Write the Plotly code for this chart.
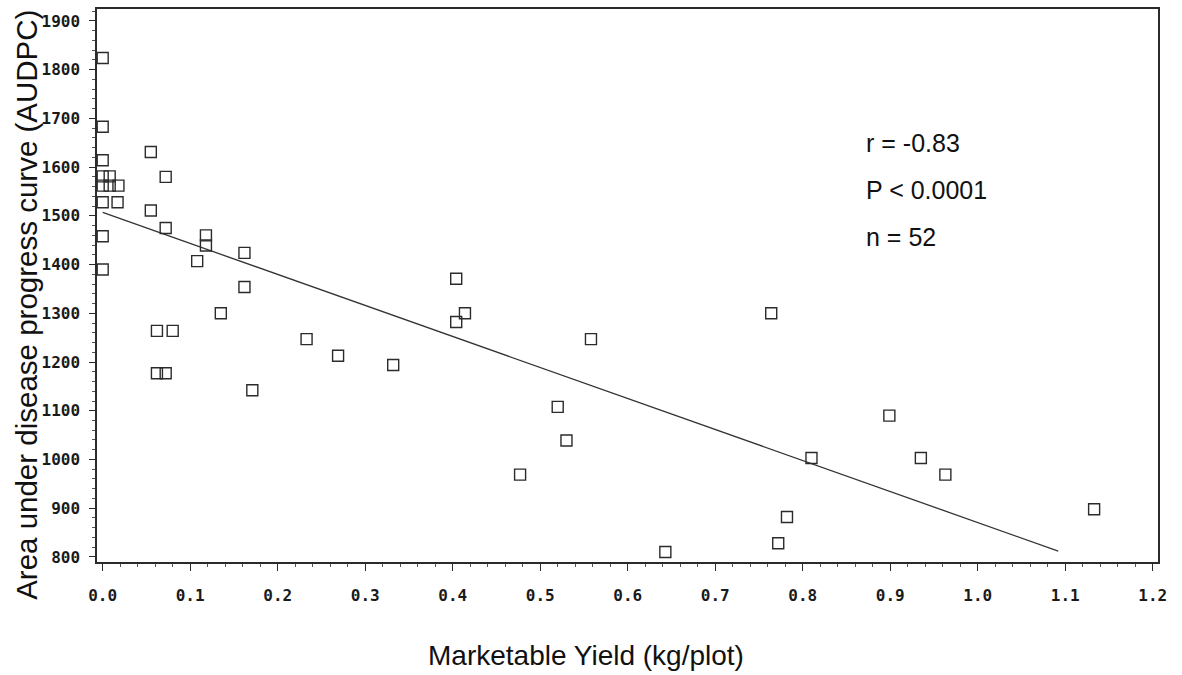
import plotly.graph_objects as go

# Marketable yield (kg/plot) and AUDPC for each plot
yield_kg = [
    0.0, 0.0, 0.0, 0.0, 0.008, 0.0, 0.008, 0.018, 0.0, 0.017, 0.0, 0.0,
    0.055, 0.072, 0.055, 0.072,
    0.118, 0.118, 0.108, 0.162, 0.162, 0.135,
    0.062, 0.080, 0.062, 0.072, 0.171,
    0.233, 0.269, 0.332,
    0.404, 0.414, 0.404,
    0.477, 0.520, 0.530, 0.558,
    0.643,
    0.764, 0.772, 0.782,
    0.810, 0.899, 0.935, 0.963, 1.133,
]
audpc = [
    1824, 1683, 1614, 1581, 1581, 1562, 1562, 1562, 1528, 1528, 1458, 1390,
    1631, 1580, 1511, 1475,
    1460, 1439, 1407, 1424, 1354, 1300,
    1264, 1264, 1177, 1177, 1142,
    1247, 1213, 1194,
    1371, 1300, 1282,
    969, 1108, 1039, 1247,
    810,
    1300, 828, 882,
    1003, 1090, 1003, 969, 898,
]

# Fitted regression line (end points)
fit_x = [0.0, 1.092]
fit_y = [1507, 812]

stats_lines = ["r = -0.83", "P < 0.0001", "n = 52"]

x_ticks = [round(0.1 * i, 1) for i in range(13)]
y_ticks = list(range(800, 2000, 100))

ink = "#2b2b2b"
tick_font = dict(family="DejaVu Sans Mono", size=16, color="#1a1a1a", weight="bold")
text_font = "Liberation Sans, Arial, sans-serif"

fig = go.Figure()

fig.add_trace(go.Scatter(
    x=fit_x, y=fit_y, mode="lines",
    line=dict(color="#333", width=1.3),
    showlegend=False, hoverinfo="skip",
))

fig.add_trace(go.Scatter(
    x=yield_kg, y=audpc, mode="markers",
    marker=dict(symbol="square-open", size=11, color=ink, line=dict(width=1.4, color=ink)),
    showlegend=False,
))

fig.update_xaxes(
    range=[-0.0065, 1.206],
    tickvals=x_ticks, tickformat=".1f",
    ticks="outside", ticklen=7, tickwidth=1.3, tickcolor=ink,
    minor=dict(dtick=0.02, tick0=0, ticks="outside", ticklen=3, tickwidth=1, tickcolor="#555"),
    showline=True, linecolor=ink, linewidth=1.5, mirror=True,
    showgrid=False, zeroline=False,
    tickfont=tick_font, ticklabelstandoff=11,
)
fig.update_yaxes(
    range=[789.6, 1924.5],
    tickvals=y_ticks,
    ticks="outside", ticklen=6, tickwidth=1.3, tickcolor=ink,
    minor=dict(dtick=20, tick0=800, ticks="outside", ticklen=3, tickwidth=1, tickcolor="#555"),
    showline=True, linecolor=ink, linewidth=1.5, mirror=True,
    showgrid=False, zeroline=False,
    tickfont=tick_font, ticklabelstandoff=6,
)

annotations = [
    dict(text="Area under disease progress curve (AUDPC)", textangle=-90,
         xref="paper", yref="paper", x=0, y=0.465, xshift=-70,
         xanchor="center", yanchor="middle", showarrow=False,
         font=dict(family=text_font, size=29.5, color="#111")),
    dict(text="Marketable Yield (kg/plot)",
         xref="paper", yref="paper", x=0.461, y=0, yshift=-93,
         xanchor="center", yanchor="middle", showarrow=False,
         font=dict(family=text_font, size=28, color="#111")),
]
for i, line in enumerate(stats_lines):
    annotations.append(dict(
        text=line, xref="paper", yref="paper",
        x=(864 - 97) / 1061, y=(562 - (141.5 + 47 * i)) / 555,
        xanchor="left", yanchor="middle", showarrow=False,
        font=dict(family=text_font, size=25, color="#111"),
    ))

fig.update_layout(
    width=1182, height=675,
    margin=dict(l=97, r=24, t=7, b=113),
    plot_bgcolor="white", paper_bgcolor="white",
    annotations=annotations,
)

fig.write_html("out.html")
